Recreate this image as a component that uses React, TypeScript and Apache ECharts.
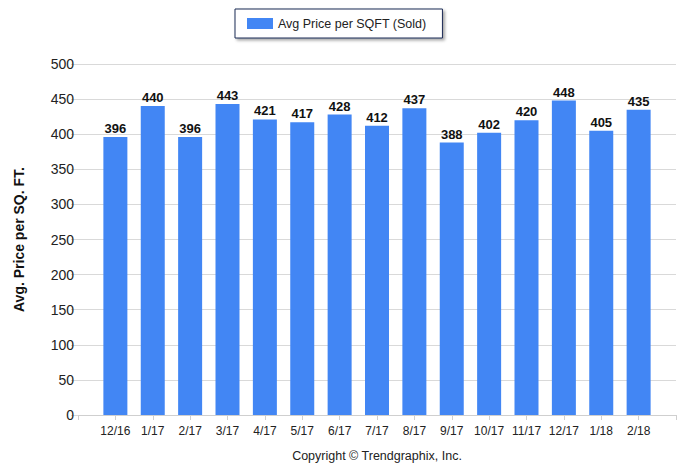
import React, { useEffect, useRef } from "react";
import * as echarts from "echarts";

const categories = ["12/16", "1/17", "2/17", "3/17", "4/17", "5/17", "6/17", "7/17", "8/17", "9/17", "10/17", "11/17", "12/17", "1/18", "2/18"];
const avgPrice = [396, 440, 396, 443, 421, 417, 428, 412, 437, 388, 402, 420, 448, 405, 435];
const seriesName = "Avg Price per SQFT (Sold)";
const yTitle = "Avg. Price per SQ. FT.";
const copyright = "Copyright \u00A9 Trendgraphix, Inc.";

const FONT = "'Liberation Sans', Arial, sans-serif";

export default function App() {
  const ref = useRef<HTMLDivElement>(null);
  useEffect(() => {
    if (!ref.current) return;
    const chart = echarts.init(ref.current, undefined, { renderer: "svg" });
    const cats = ["", ...categories, ""];
    const data = [null, ...avgPrice, null];
    chart.setOption({
      animation: false,
      backgroundColor: "#ffffff",
      textStyle: { fontFamily: FONT },
      legend: {
        left: 235,
        top: 9,
        orient: "horizontal",
        padding: [8, 16, 8, 12],
        itemWidth: 26,
        itemHeight: 11,
        itemGap: 5,
        borderColor: "#1c2a55",
        borderWidth: 1,
        backgroundColor: "#ffffff",
        shadowColor: "rgba(0,0,0,0.35)",
        shadowBlur: 3,
        shadowOffsetX: 2,
        shadowOffsetY: 2,
        textStyle: { fontFamily: FONT, fontSize: 12.5, color: "#222", padding: [0, 0, 0, 0] },
        data: [{ name: seriesName, icon: "rect" }],
      },
      grid: { left: 78, right: 23, top: 64, bottom: 58, containLabel: false },
      xAxis: {
        type: "category",
        data: cats,
        boundaryGap: false,
        axisLine: { show: true, lineStyle: { color: "#cfcfcf", width: 1 } },
        axisTick: { show: true, length: 5, interval: 0, lineStyle: { color: "#cfcfcf" } },
        axisLabel: { interval: 0, fontFamily: FONT, fontSize: 12, color: "#222", margin: 10 },
        splitLine: { show: false },
      },
      yAxis: {
        type: "value",
        min: 0,
        max: 500,
        interval: 50,
        name: yTitle,
        nameLocation: "middle",
        nameRotate: 90,
        nameGap: 52,
        nameTextStyle: { fontFamily: FONT, fontSize: 14, fontWeight: "bold", color: "#111" },
        axisLine: { show: false },
        axisTick: { show: true, length: 7, lineStyle: { color: "#d9d9d9" } },
        axisLabel: { fontFamily: FONT, fontSize: 14, color: "#222", margin: 4 },
        splitLine: { show: true, lineStyle: { color: "#d9d9d9", width: 1 } },
      },
      series: [
        {
          name: seriesName,
          type: "bar",
          data,
          barWidth: 24,
          itemStyle: { color: "#4286f4" },
          label: {
            show: true,
            position: "top",
            distance: 2,
            fontFamily: FONT,
            fontSize: 13,
            fontWeight: "bold",
            color: "#111",
          },
        },
      ],
      graphic: [
        {
          type: "text",
          x: 377,
          y: 456,
          style: {
            text: copyright,
            font: `12.5px ${FONT}`,
            fill: "#222",
            textAlign: "center",
            textVerticalAlign: "middle",
          },
        },
      ],
    });
    return () => chart.dispose();
  }, []);
  return (
    <div
      ref={ref}
      style={{ position: "absolute", left: 0, top: 0, width: 699, height: 473 }}
    />
  );
}
